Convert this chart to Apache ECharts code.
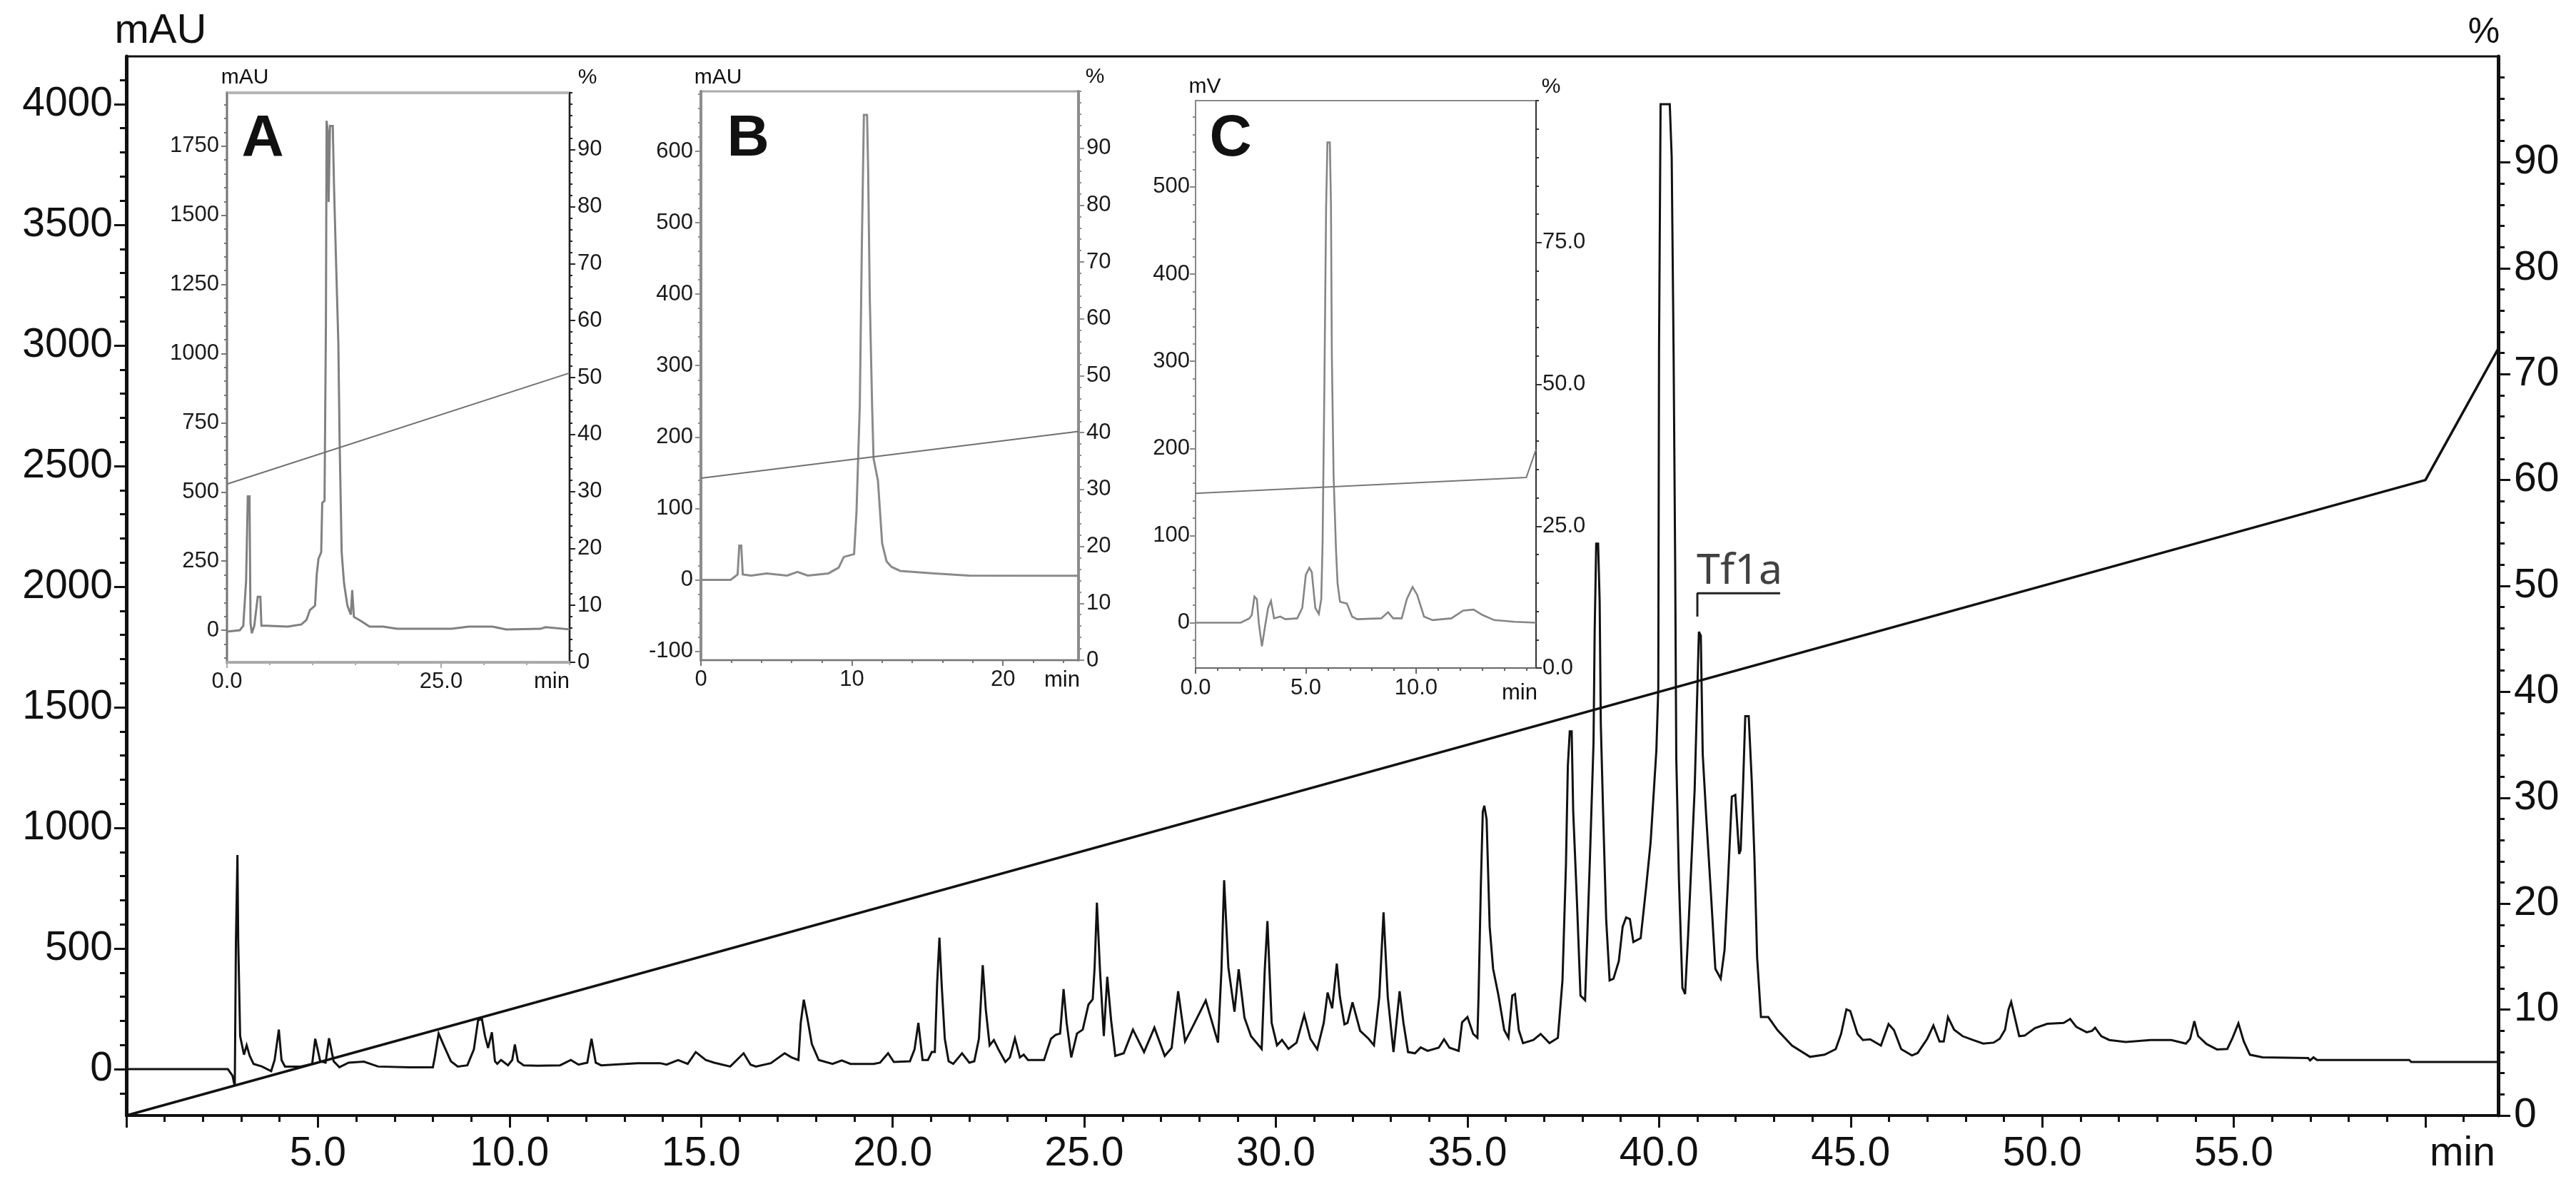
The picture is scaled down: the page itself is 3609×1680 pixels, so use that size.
<!DOCTYPE html>
<html>
<head>
<meta charset="utf-8">
<title>Chromatogram</title>
<script src="https://cdn.jsdelivr.net/npm/echarts@6/dist/echarts.min.js"></script>
<style>
html,body{margin:0;padding:0;background:#fff;}
#chart{width:3609px;height:1680px;}
</style>
</head>
<body>
<div id="chart"></div>
<script>
// main chromatogram, [min, mAU]
var mainTrace = [
[0,0],[2.65,0],[2.77,-27],[2.83,-71],[2.86,530],[2.9,888],[2.92,530],[2.97,137],[3.07,60],[3.14,99],[3.22,55],[3.32,22],[3.54,11],[3.78,-8],[3.87,38],[3.98,164],[4.05,38],[4.14,11],[4.55,11],[4.85,22],[4.93,126],[5.06,33],[5.2,27],[5.29,128],[5.41,33],[5.56,8],[5.8,27],[6.2,31],[6.57,11],[7.4,8],[8.0,8],[8.05,49],[8.15,148],[8.3,93],[8.47,33],[8.65,11],[8.9,16],[9.07,82],[9.18,203],[9.28,208],[9.36,137],[9.44,88],[9.54,153],[9.62,33],[9.68,22],[9.78,38],[9.96,16],[10.07,38],[10.14,102],[10.22,33],[10.37,16],[10.73,14],[11.32,16],[11.6,38],[11.8,19],[12.03,27],[12.14,126],[12.25,27],[12.39,16],[13.34,25],[13.93,25],[14.1,19],[14.4,38],[14.65,22],[14.86,71],[15.12,38],[15.34,27],
[15.76,11],[16.11,66],[16.29,19],[16.43,11],[16.82,25],[17.18,66],[17.36,49],[17.54,38],[17.6,192],[17.68,288],[17.77,214],[17.89,104],[18.07,38],[18.43,22],[18.67,36],[18.9,22],[19.5,22],[19.67,27],[19.88,66],[20.03,30],[20.45,33],[20.57,82],[20.67,192],[20.78,38],[20.92,38],[21.02,71],[21.1,71],[21.16,356],[21.22,545],[21.28,345],[21.36,126],[21.46,33],[21.58,22],[21.81,66],[22.0,27],[22.13,33],[22.25,126],[22.35,431],[22.43,247],[22.53,99],[22.64,121],[22.76,82],[22.94,30],[23.06,49],[23.19,128],[23.32,49],[23.42,60],[23.53,38],[23.95,38],[24.13,126],[24.25,142],[24.37,148],[24.46,332],[24.54,192],[24.66,49],[24.81,148],[24.96,164],[25.11,268],[25.22,290],[25.27,422],[25.33,690],[25.41,411],[25.51,137],[25.6,383],[25.7,203],[25.81,55],[26.03,66],[26.27,164],[26.56,71],[26.83,172],[27.1,55],[27.28,88],[27.45,323],[27.63,115],[27.81,170],[28.17,285],[28.49,110],[28.58,411],[28.65,783],[28.76,422],[28.92,238],[29.03,414],[29.18,214],[29.35,137],[29.63,84],[29.71,411],[29.78,614],[29.89,192],[30.03,99],[30.16,121],[30.33,84],[30.54,110],[30.74,225],[30.9,126],[31.08,82],[31.25,192],[31.35,318],[31.47,252],[31.59,438],[31.67,301],[31.79,186],[31.87,192],[32.0,277],[32.2,159],[32.42,126],[32.56,99],[32.7,301],[32.81,650],[32.92,301],[33.07,71],[33.23,323],[33.33,192],[33.45,71],[33.63,66],[33.78,90],
[33.96,76],[34.25,89],[34.39,124],[34.53,89],[34.77,76],[34.86,194],[35.0,216],[35.15,146],[35.26,130],[35.29,305],[35.35,765],[35.4,1067],[35.44,1092],[35.5,1035],[35.58,590],[35.67,416],[35.81,305],[35.96,162],[36.07,130],[36.17,305],[36.24,311],[36.34,162],[36.45,108],[36.72,121],[36.91,146],[37.14,108],[37.36,130],[37.48,368],[37.57,844],[37.62,1257],[37.67,1400],[37.72,1400],[37.76,1067],[37.86,686],[37.95,305],[38.07,286],[38.19,844],[38.29,1352],[38.32,1813],[38.36,2178],[38.41,2178],[38.45,1940],[38.48,1432],[38.54,1067],[38.62,622],[38.71,368],[38.81,375],[38.95,448],[39.05,590],[39.14,629],[39.24,622],[39.33,527],[39.52,543],[39.66,749],[39.78,940],[39.93,1321],[39.98,1575],[40.0,2987],[40.04,4000],[40.06,4000],[40.28,4000],[40.33,3781],[40.38,2971],[40.42,2114],[40.45,1289],[40.52,781],[40.61,337],[40.68,311],[40.76,559],[40.85,876],[40.93,1162],[41.0,1575],[41.04,1813],[41.09,1797],[41.14,1305],[41.23,1051],[41.37,686],[41.47,416],[41.61,375],[41.71,495],[41.8,781],[41.9,1130],[41.99,1137],[42.09,892],[42.13,908],[42.19,1162],[42.25,1463],[42.34,1463],[42.42,1194],[42.49,876],[42.56,463],[42.66,216],[42.85,216],[43.09,162],[43.47,98],[43.94,51],[44.32,60],[44.61,83],[44.75,146],[44.89,248],[44.99,241],[45.18,146],[45.32,121],[45.51,124],[45.79,98],[45.99,187],[46.13,162],[46.32,83],[46.6,57],[46.75,67],[47.0,126],
[47.16,181],[47.32,115],[47.43,115],[47.54,216],[47.7,164],[47.92,137],[48.19,121],[48.46,106],[48.73,110],[48.89,126],[49.03,164],[49.12,247],[49.19,279],[49.27,225],[49.4,137],[49.54,139],[49.81,170],[50.13,188],[50.56,192],[50.73,208],[50.89,175],[51.16,153],[51.3,159],[51.38,172],[51.54,137],[51.75,121],[52.18,113],[52.83,121],[53.37,121],[53.75,106],[53.86,126],[53.97,199],[54.07,137],[54.29,104],[54.56,82],[54.83,84],[54.97,131],[55.12,190],[55.26,115],[55.42,60],[55.75,49],[56.94,46],[56.99,36],[57.08,49],[57.17,38],[59.58,38],[59.63,30],[61.9,30]
];
var mainGradient = [[0,0],[60,60],[61.9,72.4]];
var tf1aBracket = [[41.0,1876],[41.0,1973],[43.16,1973]];
var tf1aLabelAt = [[42.1,1973]];

// inset A
var traceA = [[0,-5],[1.5,0],[1.9,16],[2.23,177],[2.43,484],[2.63,484],[2.75,24],[2.9,-11],[3.19,16],[3.59,121],[3.9,121],[4.02,16],[4.62,16],[7.09,13],[8.69,21],[9.28,37],[9.68,73],[10.28,89],[10.48,202],[10.68,258],[11.0,282],[11.12,460],[11.39,468],[11.55,1105],[11.63,1842],[11.79,1798],[11.87,1548],[12.03,1823],[12.35,1823],[12.51,1589],[12.75,1315],[13.0,1040],[13.15,685],[13.39,282],[13.67,169],[14.06,89],[14.46,56],[14.62,145],[14.82,48],[15.46,37],[16.65,13],[18.25,13],[19.84,5],[26.2,5],[28.2,13],[31.0,13],[32.6,3],[36.6,5],[37.2,11],[40,3]];
var gradientA = [[0,31.3],[40,50.8]];

// inset B
var traceB = [[0,0],[1.97,0],[2.43,7.5],[2.54,48],[2.67,48],[2.77,7.5],[3.33,6],[4.35,9],[5.71,6],[6.39,11],[7.07,6],[8.44,9],[9.12,17],[9.46,32],[10.14,36],[10.3,95],[10.52,245],[10.66,476],[10.79,651],[11.0,651],[11.07,576],[11.18,395],[11.34,239],[11.43,170],[11.72,139],[12.0,51],[12.29,26],[12.63,18],[13.2,12.5],[15.46,9],[17.73,6],[25,5.6]];
var gradientB = [[0,32],[25,40.2]];

// inset C
var traceC = [[0,0],[2.05,0],[2.44,5],[2.55,9],[2.67,30],[2.78,27],[2.87,-1],[3.01,-27],[3.14,-6],[3.29,17],[3.42,25],[3.56,5],[3.84,7],[4.07,4],[4.61,5],[4.84,17],[5.0,55],[5.16,63],[5.27,58],[5.43,17],[5.59,10],[5.7,27],[5.76,91],[5.84,267],[5.92,477],[5.98,551],[6.09,551],[6.14,480],[6.18,306],[6.26,168],[6.37,83],[6.44,45],[6.55,24],[6.86,22],[7.1,7],[7.33,4],[8.42,5],[8.73,12],[8.96,5],[9.35,5],[9.58,27],[9.84,41],[10.05,32],[10.36,7],[10.75,3],[11.6,5],[12.14,14],[12.61,15],[13.0,9],[13.54,3],[14.47,1],[15.44,0]];
var gradientC = [[0,30.8],[15.0,33.6],[15.44,38.5]];

// tick labels
var mainXLabels = [5,10,15,20,25,30,35,40,45,50,55];
var mainYLabels = [0,500,1000,1500,2000,2500,3000,3500,4000];
var mainPctLabels = [0,10,20,30,40,50,60,70,80,90];
var xLabelsA = [0,25];
var yLabelsA = [0,250,500,750,1000,1250,1500,1750];
var xLabelsB = [0,10,20];
var yLabelsB = [-100,0,100,200,300,400,500,600];
var xLabelsC = [0,5,10];
var yLabelsC = [0,100,200,300,400,500];
var pctLabelsC = [0,25,50,75];

function steps(from, to, step) {
    var out = [];
    for (var v = from; v <= to + 1e-6; v += step) {
        out.push(Math.round(v * 100) / 100);
    }
    return out;
}

var FONT = '"Liberation Sans", Arial, sans-serif';
var grids = [], xAxes = [], yAxes = [], series = [];

// one panel = grid + major/minor axes on bottom, left and right
function addPanel(p) {
    var gi = grids.length;
    grids.push({
        show: true, left: p.left, top: p.top, width: p.width, height: p.height,
        borderColor: p.borderColor, borderWidth: p.borderWidth, backgroundColor: 'transparent'
    });
    function axis(extra, line, len, ticks, labels, fmt) {
        return Object.assign({
            type: 'value', gridIndex: gi, splitLine: {show: false},
            axisLine: {show: !!labels, onZero: false, lineStyle: {color: line.color, width: line.width}},
            axisTick: {show: true, length: len, customValues: ticks, lineStyle: {color: line.color, width: p.tickWidth}},
            axisLabel: labels ? {
                show: true, customValues: labels, formatter: fmt, margin: extra.margin,
                fontFamily: FONT, fontSize: p.fontSize, color: p.textColor
            } : {show: false}
        }, extra);
    }
    var xBase = {position: 'bottom', min: p.xMin, max: p.xMax, margin: p.xMargin};
    var lBase = {position: 'left', min: p.yMin, max: p.yMax, margin: p.yMargin};
    var rBase = {position: 'right', min: 0, max: 100, margin: p.rMargin};
    var xi = xAxes.length, yi = yAxes.length;
    xAxes.push(axis(xBase, p.bottomLine, p.majorLen, p.xMajor, p.xLabels, p.xFmt));
    xAxes.push(axis(xBase, p.bottomLine, p.minorLen, p.xMinor));
    yAxes.push(axis(lBase, p.leftLine, p.majorLen, p.yLabels, p.yLabels, String));
    yAxes.push(axis(lBase, p.leftLine, p.minorLen, p.yMinor));
    yAxes.push(axis(rBase, p.rightLine, p.majorLen, p.rMajor, p.rLabels, p.rFmt));
    yAxes.push(axis(rBase, p.rightLine, p.minorLen, p.rMinor));
    series.push({
        type: 'line', xAxisIndex: xi, yAxisIndex: yi, data: p.trace, showSymbol: false, silent: true,
        lineStyle: {color: p.traceColor, width: p.traceWidth, join: 'miter', miterLimit: 4}, z: 3
    });
    series.push({
        type: 'line', xAxisIndex: xi, yAxisIndex: yi + 2, data: p.gradient, showSymbol: false, silent: true,
        lineStyle: {color: p.gradientColor, width: p.gradientWidth}, z: 4
    });
    return {x: xi, y: yi};
}

var fixed1 = function (v) { return v.toFixed(1); };

var mainIdx = addPanel({
    left: 177, top: 79, width: 3323, height: 1484,
    borderColor: '#111', borderWidth: 3, tickWidth: 3, majorLen: 17, minorLen: 9,
    fontSize: 57, textColor: '#111', xMargin: 26, yMargin: 19, rMargin: 22,
    xMin: 0, xMax: 61.9, yMin: -192, yMax: 4198,
    xLabels: mainXLabels, xFmt: fixed1, xMajor: steps(0, 60, 5), xMinor: steps(0, 61, 1),
    yLabels: mainYLabels, yMinor: steps(-100, 4100, 100),
    rLabels: mainPctLabels, rFmt: String, rMajor: mainPctLabels, rMinor: steps(0, 98, 2),
    bottomLine: {color: '#111', width: 4}, leftLine: {color: '#111', width: 5}, rightLine: {color: '#111', width: 5},
    trace: mainTrace, traceColor: '#111', traceWidth: 3,
    gradient: mainGradient, gradientColor: '#111', gradientWidth: 3.5
});

addPanel({
    left: 318, top: 130, width: 480, height: 798,
    borderColor: '#b5b5b5', borderWidth: 4, tickWidth: 2, majorLen: 8, minorLen: 4,
    fontSize: 31, textColor: '#1a1a1a', xMargin: 12, yMargin: 11, rMargin: 11,
    xMin: 0, xMax: 40, yMin: -116, yMax: 1943,
    xLabels: xLabelsA, xFmt: fixed1, xMajor: xLabelsA, xMinor: steps(0, 40, 5),
    yLabels: yLabelsA, yMinor: steps(-100, 1900, 50),
    rLabels: mainPctLabels, rFmt: String, rMajor: mainPctLabels, rMinor: steps(0, 100, 2),
    bottomLine: {color: '#aaa', width: 4}, leftLine: {color: '#777', width: 2}, rightLine: {color: '#222', width: 2},
    trace: traceA, traceColor: '#808080', traceWidth: 3,
    gradient: gradientA, gradientColor: '#707070', gradientWidth: 2
});

addPanel({
    left: 982, top: 128, width: 529, height: 797,
    borderColor: '#aaa', borderWidth: 3, tickWidth: 2, majorLen: 8, minorLen: 4,
    fontSize: 31, textColor: '#1a1a1a', xMargin: 12, yMargin: 11, rMargin: 11,
    xMin: 0, xMax: 25, yMin: -112.5, yMax: 684,
    xLabels: xLabelsB, xFmt: String, xMajor: xLabelsB, xMinor: steps(0, 24, 2),
    yLabels: yLabelsB, yMinor: steps(-100, 680, 20),
    rLabels: mainPctLabels, rFmt: String, rMajor: mainPctLabels, rMinor: steps(0, 100, 2),
    bottomLine: {color: '#777', width: 2}, leftLine: {color: '#8c8c8c', width: 4}, rightLine: {color: '#8c8c8c', width: 4},
    trace: traceB, traceColor: '#8a8a8a', traceWidth: 3,
    gradient: gradientB, gradientColor: '#707070', gradientWidth: 2
});

addPanel({
    left: 1675, top: 141, width: 477, height: 795,
    borderColor: '#888', borderWidth: 2, tickWidth: 2, majorLen: 8, minorLen: 4,
    fontSize: 31, textColor: '#1a1a1a', xMargin: 13, yMargin: 8, rMargin: 9,
    xMin: 0, xMax: 15.44, yMin: -52, yMax: 599,
    xLabels: xLabelsC, xFmt: fixed1, xMajor: xLabelsC, xMinor: steps(0, 15, 1),
    yLabels: yLabelsC, yMinor: steps(-40, 580, 20),
    rLabels: pctLabelsC, rFmt: fixed1, rMajor: pctLabelsC, rMinor: steps(0, 100, 5),
    bottomLine: {color: '#666', width: 2}, leftLine: {color: '#888', width: 2}, rightLine: {color: '#333', width: 2},
    trace: traceC, traceColor: '#858585', traceWidth: 2.6,
    gradient: gradientC, gradientColor: '#777', gradientWidth: 2
});

// Tf1a bracket and name, on the main axes
series.push({
    type: 'line', xAxisIndex: mainIdx.x, yAxisIndex: mainIdx.y, data: tf1aBracket, showSymbol: false, silent: true,
    lineStyle: {color: '#222', width: 3}, z: 5
});
series.push({
    type: 'scatter', xAxisIndex: mainIdx.x, yAxisIndex: mainIdx.y, data: tf1aLabelAt, symbolSize: 0, silent: true,
    label: {show: true, position: 'top', distance: 0, formatter: 'Tf1a', fontFamily: '"Noto Sans", sans-serif', fontSize: 59, color: '#111'}, z: 5
});

function note(text, x, y, size, weight) {
    return {
        type: 'text', x: x, y: y, silent: true,
        style: {text: text, font: (weight || 'normal') + ' ' + size + 'px ' + FONT, fill: '#111', align: 'center', verticalAlign: 'middle'}
    };
}

var myChart = echarts.init(document.getElementById('chart'), null, {renderer: 'canvas'});
myChart.setOption({
    animation: false,
    backgroundColor: '#fff',
    grid: grids,
    xAxis: xAxes,
    yAxis: yAxes,
    series: series,
    graphic: [
        note('mAU', 225, 44, 58), note('%', 3480, 46, 50), note('min', 3450, 1617, 57),
        note('mAU', 343, 109, 30), note('%', 823, 109, 30), note('min', 773, 955, 31),
        note('mAU', 1006, 109, 30), note('%', 1534, 108, 30), note('min', 1488, 953, 31),
        note('mV', 1688, 122, 30), note('%', 2173, 122, 30), note('min', 2129, 971, 31),
        note('A', 368, 195, 82, 'bold'), note('B', 1048, 195, 82, 'bold'), note('C', 1724, 195, 82, 'bold')
    ]
});
</script>
</body>
</html>
